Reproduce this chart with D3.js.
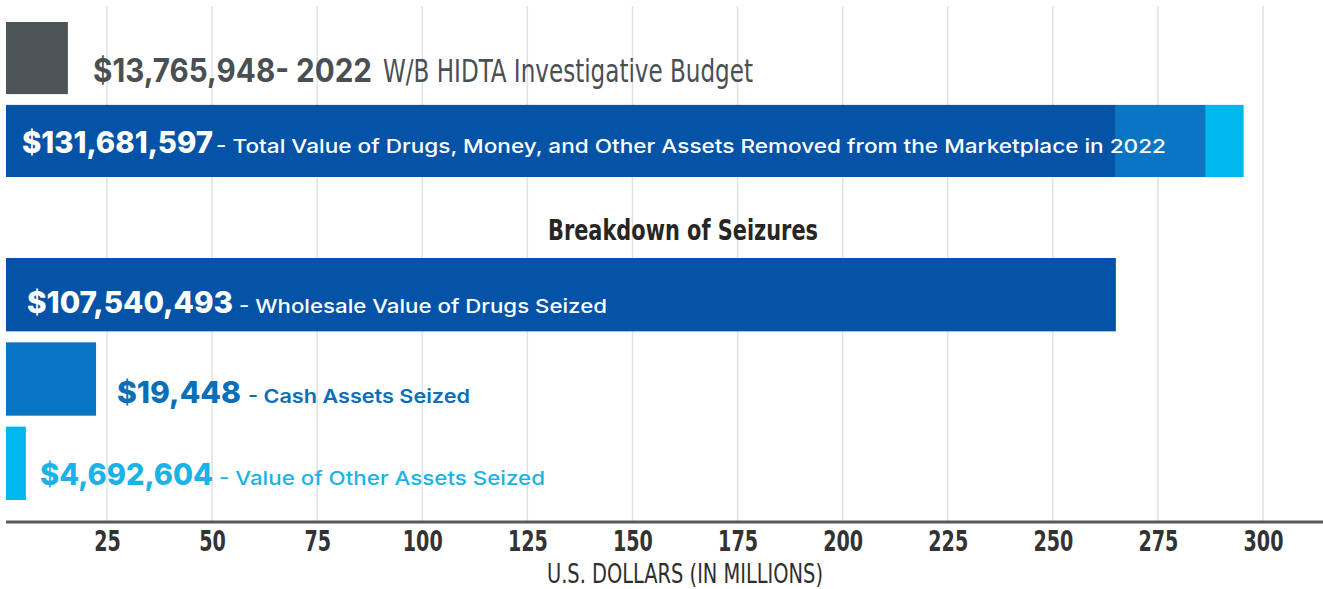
<!DOCTYPE html>
<html>
<head>
<meta charset="utf-8">
<script src="https://cdn.jsdelivr.net/npm/d3@7"></script>
<style>
  body { margin: 0; background: #fff; }
  svg { display: block; }
</style>
</head>
<body>
<script>
"use strict";

// values in millions of dollars
const topRows = ["budget", "total"];
const budgetValue = [15.7];
const totalParts = ["drugs", "cash", "other"];
const totalPartValues = [265, 21.4, 9.0];

const seizureRows = ["drugs", "cash", "other"];
const seizureValues = [265, 22.4, 5.7];

const amountLabels = ["$13,765,948- 2022", "$131,681,597", "$107,540,493", "$19,448", "$4,692,604"];
const descLabels = [
  "W/B HIDTA Investigative Budget",
  "- Total Value of Drugs, Money, and Other Assets Removed from the Marketplace in 2022",
  "- Wholesale Value of Drugs Seized",
  "- Cash Assets Seized",
  "- Value of Other Assets Seized"
];
const tickValues = [25, 50, 75, 100, 125, 150, 175, 200, 225, 250, 275, 300];
const sectionTitle = "Breakdown of Seizures";
const axisTitle = "U.S. DOLLARS (IN MILLIONS)";

const colors = { budget: "#4e5559", drugs: "#0453a6", cash: "#0a75c2", other: "#00b8ee" };

function app() {
  const w = 1323, h = 589;
  const left = 6, axisY = 522;
  const narrow = "'Liberation Sans Narrow', 'DejaVu Sans Condensed', sans-serif";
  const wide = "Inter, 'Open Sans', sans-serif";

  const x = d3.scaleLinear().domain([0, 300]).range([1.9, 1263]);
  const yTop = d3.scaleBand().domain(topRows).range([22, 177]).paddingInner(0.13);
  const yBottom = d3.scaleBand().domain(seizureRows).range([258, 500]).paddingInner(0.13);

  const svg = d3.select("body").append("svg").attr("width", w).attr("height", h);
  svg.append("rect").attr("width", w).attr("height", h).attr("fill", "#fff");

  svg.append("clipPath").attr("id", "plot")
    .append("rect").attr("x", left).attr("y", 0).attr("width", w - left).attr("height", axisY);

  // gridlines
  svg.append("g").selectAll("line").data(tickValues).enter().append("line")
    .attr("x1", d => x(d)).attr("x2", d => x(d))
    .attr("y1", 6).attr("y2", axisY)
    .attr("stroke", "#e1e1e1").attr("stroke-width", 1.5);

  const bars = svg.append("g").attr("clip-path", "url(#plot)");

  // budget bar
  bars.append("rect")
    .attr("x", x(0)).attr("y", yTop("budget"))
    .attr("width", x(budgetValue[0]) - x(0)).attr("height", yTop.bandwidth())
    .attr("fill", colors.budget);

  // stacked total bar
  const stack = [];
  let acc = 0;
  totalParts.forEach((k, i) => { stack.push({ key: k, x0: acc, x1: acc + totalPartValues[i] }); acc += totalPartValues[i]; });
  bars.selectAll(".seg").data(stack).enter().append("rect").attr("class", "seg")
    .attr("x", d => x(d.x0)).attr("y", yTop("total"))
    .attr("width", d => x(d.x1) - x(d.x0)).attr("height", yTop.bandwidth())
    .attr("fill", d => colors[d.key]);

  // breakdown bars
  bars.selectAll(".sz").data(seizureRows).enter().append("rect").attr("class", "sz")
    .attr("x", x(0)).attr("y", d => yBottom(d))
    .attr("width", (d, i) => x(seizureValues[i]) - x(0)).attr("height", yBottom.bandwidth())
    .attr("fill", d => colors[d]);

  // label layout: start x, baseline, widths, sizes, colours
  const labelLayout = [
    { x: 93, y: 82, aw: 279, gap: 11, dw: 370, as: 32, aweight: 700, ds: 32, dfont: narrow, dweight: 400, ac: "#4a4f53", dc: "#4a4f53" },
    { x: 22, y: 153, aw: 191, gap: 3, dw: 950, as: 30, aweight: 800, ds: 19, dfont: wide, dweight: 500, ac: "#fff", dc: "#fff" },
    { x: 27, y: 313, aw: 206, gap: 6, dw: 368, as: 30, aweight: 800, ds: 19, dfont: wide, dweight: 500, ac: "#fff", dc: "#fff" },
    { x: 117, y: 403, aw: 124, gap: 7, dw: 222, as: 30, aweight: 800, ds: 19, dfont: wide, dweight: 600, ac: "#0a6fb8", dc: "#0a6fb8" },
    { x: 40, y: 485, aw: 173, gap: 6, dw: 326, as: 30, aweight: 800, ds: 19, dfont: wide, dweight: 500, ac: "#1bb3e6", dc: "#1bb3e6" }
  ];

  const lab = svg.append("g");
  labelLayout.forEach((l, i) => {
    lab.append("text").attr("x", l.x).attr("y", l.y)
      .attr("font-family", wide).attr("font-weight", l.aweight).attr("font-size", l.as)
      .attr("fill", l.ac).attr("textLength", l.aw).attr("lengthAdjust", "spacingAndGlyphs")
      .text(amountLabels[i]);
    lab.append("text").attr("x", l.x + l.aw + l.gap).attr("y", l.y)
      .attr("font-family", l.dfont).attr("font-weight", l.dweight).attr("font-size", l.ds)
      .attr("fill", l.dc).attr("textLength", l.dw).attr("lengthAdjust", "spacingAndGlyphs")
      .text(descLabels[i]);
  });

  svg.append("text").attr("x", 548).attr("y", 240)
    .attr("font-family", narrow).attr("font-weight", 700).attr("font-size", 29)
    .attr("fill", "#262626").attr("textLength", 270).attr("lengthAdjust", "spacingAndGlyphs")
    .text(sectionTitle);

  // x axis
  const xAxis = d3.axisBottom(x).tickValues(tickValues).tickSize(0).tickPadding(9);
  const gx = svg.append("g").attr("id", "x-axis").attr("transform", "translate(0," + axisY + ")").call(xAxis);
  gx.select(".domain").remove();
  gx.selectAll("text")
    .attr("font-family", narrow).attr("font-weight", 700).attr("font-size", 28)
    .attr("fill", "#333")
    .attr("textLength", d => String(d).length * 13.3).attr("lengthAdjust", "spacingAndGlyphs");
  svg.append("line").attr("x1", left).attr("x2", w).attr("y1", axisY).attr("y2", axisY)
    .attr("stroke", "#5a5a5a").attr("stroke-width", 3);

  svg.append("text").attr("x", 547).attr("y", 583)
    .attr("font-family", narrow).attr("font-size", 27)
    .attr("fill", "#2e2e2e").attr("textLength", 276).attr("lengthAdjust", "spacingAndGlyphs")
    .text(axisTitle);
}

app();
</script>
</body>
</html>
